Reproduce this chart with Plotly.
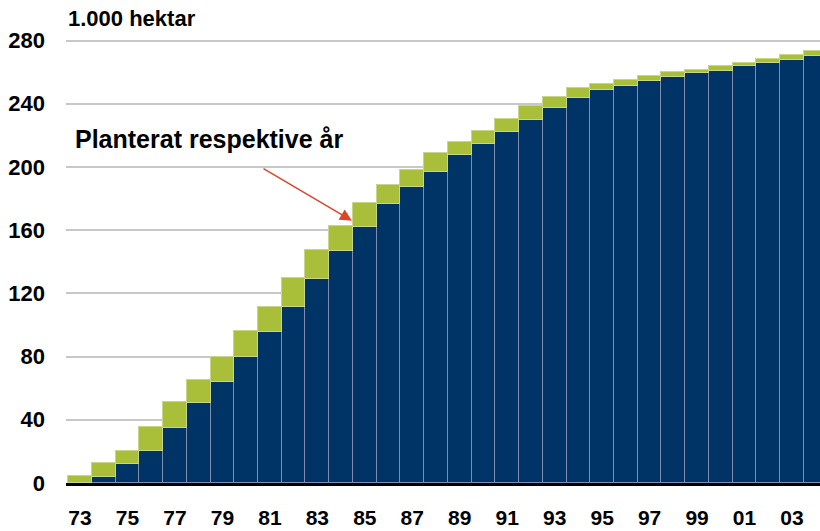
import plotly.graph_objects as go

years = list(range(1973, 2005))
# cumulative area at start of year (1.000 hektar)
previous_total = [0, 4, 12, 20.5, 35, 50.5, 64, 79.5, 95.5, 111.5, 129, 147, 162, 176.5,
                  187.5, 196.8, 207.8, 214.7, 222, 229.5, 237.5, 243.6, 249, 251,
                  254.3, 256.8, 259.2, 260.6, 263.8, 265.5, 267.5, 270]
# cumulative area at end of year
total = [4.3, 12.4, 20.5, 35.6, 51.3, 65, 80, 96.4, 111.6, 129.7, 147.4, 162.8, 177,
         188.3, 198, 208.8, 215.7, 222.7, 230.1, 238.3, 244.2, 249.9, 252.2, 255.2,
         257.3, 259.8, 261.5, 264.2, 265.9, 268.4, 270.7, 273.5]
planted = [round(t - p, 2) for t, p in zip(total, previous_total)]

tick_years = list(range(1973, 2004, 2))
tick_labels = [str(y)[2:] for y in tick_years]
y_ticks = list(range(0, 281, 40))

blue = "#003366"
green = "#A9BF3A"
edge = "#7E8DB0"

fig = go.Figure()
fig.add_bar(x=years, y=previous_total, marker=dict(color=blue, line=dict(color=edge, width=1)),
            showlegend=False, hoverinfo="skip")
fig.add_bar(x=years, y=planted, marker=dict(color=green, line=dict(color="#C9D68A", width=1)),
            showlegend=False, hoverinfo="skip")

font_family = "Liberation Sans"
fig.update_layout(
    barmode="stack", bargap=0,
    width=820, height=531,
    margin=dict(l=66, r=0, t=35, b=48),
    plot_bgcolor="white", paper_bgcolor="white",
    font=dict(family=font_family, color="black"),
    xaxis=dict(range=[1972.41, 2004.18], tickvals=tick_years, ticktext=tick_labels,
               tickfont=dict(size=21, weight="bold", family=font_family),
               showgrid=False, showline=True, linecolor="black", linewidth=3,
               ticks="", ticklabelstandoff=14, zeroline=False, automargin=False),
    yaxis=dict(range=[0, 283.5], tickvals=y_ticks,
               tickfont=dict(size=22, weight="bold", family=font_family),
               showgrid=True, gridcolor="#C8C8C8", gridwidth=2, zeroline=False,
               ticks="", ticklabelstandoff=20, automargin=False),
    annotations=[
        dict(text="1.000 hektar", xref="paper", yref="paper", x=0, y=1.0, xanchor="left",
             yanchor="bottom", yshift=2, showarrow=False,
             font=dict(size=22, weight="bold", family=font_family)),
        dict(text="Planterat respektive år", xref="paper", yref="y", x=0.0093, y=218,
             xanchor="left", yanchor="middle", showarrow=False,
             font=dict(size=25, weight="bold", family=font_family)),
        dict(text="", x=1984.46, y=166, xref="x", yref="y", ax=-90, ay=-53,
             axref="pixel", ayref="pixel", showarrow=True, arrowhead=2, arrowsize=1.6,
             arrowwidth=1.5, arrowcolor="#D9472B"),
    ],
)

fig.write_html("out.html", config={"displayModeBar": False},
               post_script="document.body.style.margin='0';document.body.style.overflow='hidden';")
